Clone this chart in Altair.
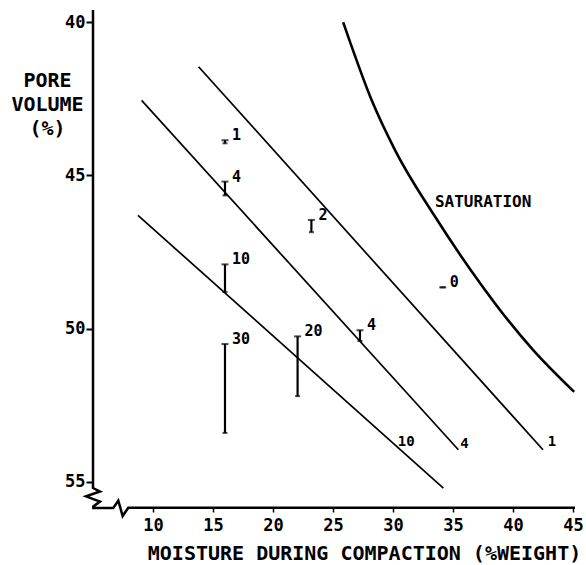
import altair as alt
import pandas as pd

FONT = "DejaVu Sans Mono"

# Saturation curve (pore volume vs. moisture)
sat_x = [25.85, 26.42, 28.22, 30.17, 33.5, 37.25, 38.92, 41.67, 45.1]
sat_y = [40.0, 40.64, 42.54, 44.17, 46.34, 48.51, 49.39, 50.69, 52.06]

# Straight reference lines (start / end points)
line_names = ["1", "4", "10"]
line_x0 = [13.8, 9.05, 8.75]
line_y0 = [41.45, 42.55, 46.3]
line_x1 = [42.5, 35.45, 34.2]
line_y1 = [53.95, 53.95, 55.2]
line_label_x = [43.25, 35.95, 31.1]
line_label_y = [53.7, 53.75, 53.7]

# Measured ranges with their labels
bar_x = [16.0, 16.0, 23.2, 16.0, 16.0, 22.05, 27.25, 34.15]
bar_top = [43.85, 45.2, 46.45, 47.9, 50.5, 50.25, 50.05, 48.65]
bar_bottom = [43.95, 45.65, 46.85, 48.8, 53.4, 52.2, 50.4, 48.65]
bar_label = ["1", "4", "2", "10", "30", "20", "4", "0"]

# Axis outline with break marks
frame_x = [5.0, 5.0, 5.58, 4.42, 5.58, 5.03, 5.03, 6.69, 7.11, 7.47, 7.94, 45.17]
frame_y = [39.6, 55.2, 55.31, 55.47, 55.64, 55.8, 55.85, 55.85, 55.61, 56.11, 55.84, 55.84]

x_ticks = [10, 15, 20, 25, 30, 35, 40, 45]
y_ticks = [40, 45, 50, 55]

xs = alt.Scale(domain=[5, 45.17], nice=False, zero=False)
ys = alt.Scale(domain=[39.6, 55.85], nice=False, zero=False, reverse=True)

x_axis = alt.Axis(
    values=x_ticks, domain=False, grid=False, tickSize=4, tickWidth=1.5,
    tickColor="black", labelFont=FONT, labelFontSize=17, labelColor="black",
    labelFontWeight="bold", labelPadding=5,
    title="MOISTURE DURING COMPACTION (%WEIGHT)",
    titleFont=FONT, titleFontSize=20, titleFontWeight="bold",
    titleColor="black", titleAnchor="start", titleAlign="center",
    titleX=271, titleY=51, titleBaseline="alphabetic",
)
y_axis = alt.Axis(
    values=y_ticks, domain=False, grid=False, tickSize=7, tickWidth=2,
    tickColor="black", labelFont=FONT, labelFontSize=17, labelColor="black",
    labelFontWeight="bold", labelPadding=1, title=["PORE", "VOLUME", "(%)"],
    titleFont=FONT, titleFontSize=20, titleFontWeight="bold",
    titleColor="black", titleAngle=0, titleAlign="center",
    titleBaseline="top", titleX=-46, titleY=60, titleLineHeight=24,
)

X = alt.X("x:Q", scale=xs, axis=x_axis)
Y = alt.Y("y:Q", scale=ys, axis=y_axis)

frame_df = pd.DataFrame({"x": frame_x, "y": frame_y, "i": range(len(frame_x))})
frame = alt.Chart(frame_df).mark_line(color="black", strokeWidth=2.5).encode(
    x=X, y=Y, order="i:Q"
)

rows = []
for n, x0, y0, x1, y1 in zip(line_names, line_x0, line_y0, line_x1, line_y1):
    rows.append({"line": n, "x": x0, "y": y0, "i": 0})
    rows.append({"line": n, "x": x1, "y": y1, "i": 1})
lines_df = pd.DataFrame(rows)
lines = alt.Chart(lines_df).mark_line(color="black", strokeWidth=1.7).encode(
    x=X, y=Y, detail="line:N", order="i:Q"
)

sat_df = pd.DataFrame({"x": sat_x, "y": sat_y, "i": range(len(sat_x))})
sat = alt.Chart(sat_df).mark_line(
    color="black", strokeWidth=2.6, interpolate="monotone"
).encode(x=X, y=Y, order="i:Q")

bars_df = pd.DataFrame({"x": bar_x, "y": bar_top, "y2": bar_bottom, "label": bar_label})
bars = alt.Chart(bars_df).mark_rule(color="black", strokeWidth=2.2).encode(
    x=X, y=Y, y2="y2:Q"
)
caps_top = alt.Chart(bars_df).mark_tick(
    color="black", orient="horizontal", size=7, thickness=2
).encode(x=X, y=Y)
caps_bottom = alt.Chart(bars_df).mark_tick(
    color="black", orient="horizontal", size=5, thickness=2
).encode(x=X, y=alt.Y("y2:Q", scale=ys, axis=y_axis))
bar_text = alt.Chart(bars_df).mark_text(
    font=FONT, fontSize=15, fontWeight="bold", align="left",
    baseline="middle", dx=7, dy=-5, color="black"
).encode(x=X, y=Y, text="label:N")

lab_df = pd.DataFrame({"x": line_label_x, "y": line_label_y, "label": line_names})
line_text = alt.Chart(lab_df).mark_text(
    font=FONT, fontSize=14, fontWeight="bold", align="center",
    baseline="middle", color="black"
).encode(x=X, y=Y, text="label:N")

sat_label_df = pd.DataFrame({"x": [33.5], "y": [45.86], "label": ["SATURATION"]})
sat_text = alt.Chart(sat_label_df).mark_text(
    font=FONT, fontSize=16, fontWeight="bold", align="left",
    baseline="middle", color="black"
).encode(x=X, y=Y, text="label:N")

chart = alt.layer(
    frame, lines, sat, bars, caps_top, caps_bottom, bar_text, line_text, sat_text
).properties(
    width=482, height=498,
    autosize=alt.AutoSizeParams(type="none"),
    padding={"left": 93, "top": 10, "right": 11, "bottom": 57},
    background="white",
).configure_view(stroke=None)

chart.save("out.html", embed_options={"renderer": "svg", "actions": False})
